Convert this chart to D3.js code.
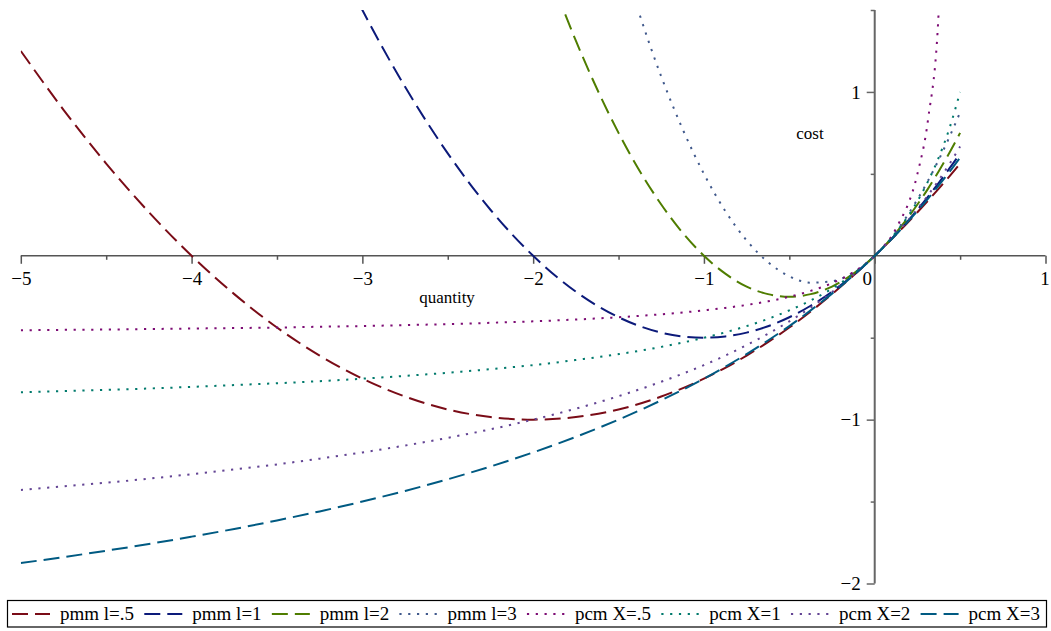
<!DOCTYPE html>
<html>
<head>
<meta charset="utf-8">
<script src="https://cdn.jsdelivr.net/npm/d3@7"></script>
<style>
  body { margin: 0; background: #fff; }
  svg { display: block; font-family: "Liberation Serif", "Times New Roman", serif; }
  .tick text { font-family: "Liberation Serif", "Times New Roman", serif; font-size: 19px; fill: #000; }
</style>
</head>
<body>
<script>
//quantity values where every curve is sampled
var quantity = [-5, -4.75, -4.5, -4.25, -4, -3.75, -3.5, -3.25, -3, -2.75, -2.5, -2.25, -2, -1.75, -1.5, -1.25, -1,
    -0.875, -0.75, -0.625, -0.5, -0.375, -0.25, -0.125, 0, 0.125, 0.25, 0.3125, 0.375, 0.4375, 0.5];

//cost (null where the curve is off the top of the plot)
var pmm05 = [1.25, 0.891, 0.563, 0.266, 0, -0.234, -0.438, -0.609, -0.75, -0.859, -0.938, -0.984, -1, -0.984, -0.938, -0.859, -0.75,
    -0.684, -0.609, -0.527, -0.438, -0.340, -0.234, -0.121, 0, 0.129, 0.266, 0.337, 0.410, 0.485, 0.563];
var pmm1 = [null, null, null, null, null, null, null, 2.031, 1.5, 1.031, 0.625, 0.281, 0, -0.219, -0.375, -0.469, -0.5,
    -0.492, -0.469, -0.430, -0.375, -0.305, -0.219, -0.117, 0, 0.133, 0.281, 0.361, 0.445, 0.533, 0.625];
var pmm2 = [null, null, null, null, null, null, null, null, null, null, null, null, 2, 1.313, 0.75, 0.313, 0,
    -0.109, -0.188, -0.234, -0.25, -0.234, -0.188, -0.109, 0, 0.141, 0.313, 0.410, 0.516, 0.629, 0.75];
var pmm3 = [null, null, null, null, null, null, null, null, null, null, null, null, null, null, 1.875, 1.094, 0.5,
    0.273, 0.094, -0.039, -0.125, -0.164, -0.156, -0.102, 0, 0.148, 0.344, 0.459, 0.586, 0.725, 0.875];
var pcm05 = [-0.455, -0.452, -0.45, -0.447, -0.444, -0.441, -0.438, -0.433, -0.429, -0.423, -0.417, -0.409, -0.4, -0.389, -0.375, -0.357, -0.333,
    -0.318, -0.3, -0.278, -0.25, -0.214, -0.167, -0.1, 0, 0.167, 0.5, 0.833, 1.5, 3.5, null];
var pcm1 = [-0.833, -0.826, -0.818, -0.810, -0.8, -0.789, -0.778, -0.765, -0.75, -0.733, -0.714, -0.692, -0.667, -0.636, -0.6, -0.556, -0.5,
    -0.467, -0.429, -0.385, -0.333, -0.273, -0.2, -0.111, 0, 0.143, 0.333, 0.455, 0.6, 0.778, 1.0];
var pcm2 = [-1.429, -1.407, -1.385, -1.36, -1.333, -1.304, -1.273, -1.238, -1.2, -1.158, -1.111, -1.059, -1, -0.933, -0.857, -0.769, -0.667,
    -0.609, -0.545, -0.476, -0.4, -0.316, -0.222, -0.118, 0, 0.133, 0.286, 0.370, 0.462, 0.56, 0.667];
var pcm3 = [-1.875, -1.839, -1.8, -1.759, -1.714, -1.667, -1.615, -1.56, -1.5, -1.435, -1.364, -1.286, -1.2, -1.105, -1, -0.882, -0.75,
    -0.677, -0.6, -0.517, -0.429, -0.333, -0.231, -0.12, 0, 0.130, 0.273, 0.349, 0.429, 0.512, 0.6];

var seriesNames = ["pmm l=.5", "pmm l=1", "pmm l=2", "pmm l=3", "pcm X=.5", "pcm X=1", "pcm X=2", "pcm X=3"];
var seriesValues = [pmm05, pmm1, pmm2, pmm3, pcm05, pcm1, pcm2, pcm3];
var seriesColors = ["#7a0c17", "#0c1a7a", "#4f7d00", "#40598c", "#7d0c74", "#007a6c", "#634494", "#005a82"];
var seriesDash = ["dash", "dash", "dash", "dot", "dot", "dot", "dot", "dash"];

var xMajor = [-5, -4, -3, -2, -1, 0, 1],
    xMinor = [-4.5, -3.5, -2.5, -1.5, -0.5, 0.5],
    yMajor = [-2, -1, 1],
    yMinor = [-1.5, -0.5, 0.5, 1.5];

window.onload = drawChart();

function drawChart(){
    var width = 1051,
        height = 631;
    var serif = "Liberation Serif, Times New Roman, serif";

    var svg = d3.select("body")
        .append("svg")
        .attr("width", width)
        .attr("height", height);

    var x = d3.scaleLinear().domain([-5, 1]).range([20.8, 1045.5]);
    var y = d3.scaleLinear().domain([-2, 1.5]).range([583.5, 10]);

    var dashes = { dash: "16,7", dot: "2.2,6.6" };
    var fmt = d3.format("d");

    //clip curves to the plot window
    svg.append("clipPath")
        .attr("id", "plotclip")
        .append("rect")
        .attr("x", x(-5))
        .attr("y", y(1.5))
        .attr("width", x(1) - x(-5))
        .attr("height", y(-2) - y(1.5));

    //x axis through y = 0
    var xAxisG = svg.append("g").attr("transform", "translate(0," + y(0) + ")");
    xAxisG.append("line")
        .attr("x1", x(-5)).attr("x2", x(1))
        .attr("stroke", "#555").attr("stroke-width", 1.5);
    xAxisG.append("g")
        .call(d3.axisBottom(x).tickValues(xMajor).tickSize(8).tickPadding(8).tickFormat(fmt))
        .call(function(g){ g.select(".domain").remove(); })
        .attr("font-family", serif)
        .attr("font-size", 19);
    xAxisG.append("g")
        .call(d3.axisBottom(x).tickValues(xMinor).tickSize(4).tickFormat(""))
        .call(function(g){ g.select(".domain").remove(); });
    xAxisG.selectAll(".tick line").attr("stroke", "#555").attr("stroke-width", 1.5);
    xAxisG.selectAll(".tick text").filter(function(d){ return d === 0; }).attr("x", -8);
    xAxisG.selectAll(".tick text").filter(function(d){ return d === 1; }).attr("x", -1);

    //y axis through x = 0
    var yAxisG = svg.append("g").attr("transform", "translate(" + x(0) + ",0)");
    yAxisG.append("line")
        .attr("y1", y(-2)).attr("y2", y(1.5))
        .attr("stroke", "#666").attr("stroke-width", 2);
    yAxisG.append("g")
        .call(d3.axisLeft(y).tickValues(yMajor).tickSize(8).tickPadding(6).tickFormat(fmt))
        .call(function(g){ g.select(".domain").remove(); })
        .attr("font-family", serif)
        .attr("font-size", 19);
    yAxisG.append("g")
        .call(d3.axisLeft(y).tickValues(yMinor).tickSize(4).tickFormat(""))
        .call(function(g){ g.select(".domain").remove(); });
    yAxisG.selectAll(".tick line").attr("stroke", "#666").attr("stroke-width", 1.5);

    //axis titles
    svg.append("text")
        .attr("x", 447).attr("y", 303)
        .attr("text-anchor", "middle")
        .style("font-size", "17px")
        .text("quantity");
    svg.append("text")
        .attr("x", 810).attr("y", 139)
        .attr("text-anchor", "middle")
        .style("font-size", "17px")
        .text("cost");

    //curves
    var line = d3.line()
        .defined(function(d){ return d[1] != null; })
        .x(function(d){ return x(d[0]); })
        .y(function(d){ return y(d[1]); })
        .curve(d3.curveMonotoneX);

    var curves = svg.append("g").attr("clip-path", "url(#plotclip)");
    seriesValues.forEach(function(vals, i){
        var pts = quantity.map(function(q, j){ return [q, vals[j]]; });
        curves.append("path")
            .datum(pts)
            .attr("class", "curve")
            .attr("d", line)
            .attr("fill", "none")
            .attr("stroke", seriesColors[i])
            .attr("stroke-width", 2)
            .attr("stroke-dasharray", dashes[seriesDash[i]]);
    });

    //legend
    var legend = svg.append("g");
    legend.append("rect")
        .attr("x", 7.5).attr("y", 600.5)
        .attr("width", 1039).attr("height", 26.5)
        .attr("fill", "none")
        .attr("stroke", "#000")
        .attr("stroke-width", 1.2);

    var items = legend.selectAll(".item")
        .data(seriesNames)
        .enter()
        .append("g")
        .attr("class", "item");
    items.append("line")
        .attr("x1", 0).attr("x2", 38)
        .attr("y1", 614).attr("y2", 614)
        .attr("stroke", function(d, i){ return seriesColors[i]; })
        .attr("stroke-width", 2)
        .attr("stroke-dasharray", function(d, i){ return dashes[seriesDash[i]]; });
    items.append("text")
        .attr("x", 48).attr("y", 620)
        .style("font-size", "19px")
        .text(function(d){ return d; });

    //spread items across the box
    var widths = [];
    items.select("text").each(function(){ widths.push(this.getComputedTextLength()); });
    var gap = (1040 - 12 - d3.sum(widths) - 48 * widths.length) / (widths.length - 1);
    var pos = 12;
    items.attr("transform", function(d, i){
        var t = "translate(" + pos + ",0)";
        pos += 48 + widths[i] + gap;
        return t;
    });
};
</script>
</body>
</html>
